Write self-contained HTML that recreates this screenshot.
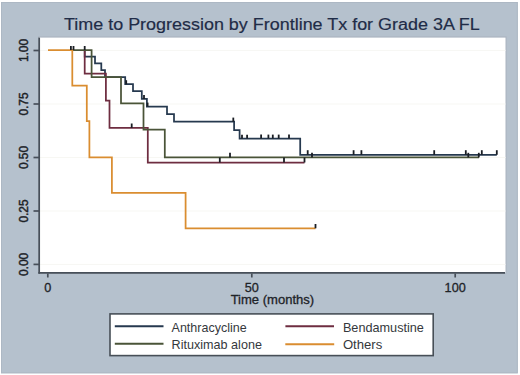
<!DOCTYPE html>
<html><head><meta charset="utf-8">
<style>
html,body{margin:0;padding:0;background:#fff;width:520px;height:375px;overflow:hidden;}
svg{display:block;}
text{font-family:"Liberation Sans",sans-serif;}
</style></head>
<body>
<svg width="520" height="375" viewBox="0 0 520 375">
<!-- graph region -->
<rect x="1" y="2" width="516.8" height="371.3" fill="#b5c1cd"/>
<rect x="1.5" y="2.5" width="515.8" height="370.3" fill="none" stroke="#adb8c4" stroke-width="1"/>
<!-- title -->
<text x="271.9" y="30.3" font-size="17.3" fill="#1f2c47" stroke="#1f2c47" stroke-width="0.2" text-anchor="middle" textLength="415.8" lengthAdjust="spacingAndGlyphs">Time to Progression by Frontline Tx for Grade 3A FL</text>
<!-- plot region -->
<rect x="38" y="36.4" width="468.6" height="237" fill="#abb5c0"/>
<rect x="39" y="37.6" width="466.5" height="235.1" fill="#ffffff"/>
<!-- gridlines -->
<g stroke="#f7f7f3" stroke-width="1">
<line x1="40" y1="50.4" x2="505.5" y2="50.4"/>
<line x1="40" y1="264.4" x2="505.5" y2="264.4"/>
<line x1="40" y1="104" x2="505.5" y2="104"/>
<line x1="40" y1="157.5" x2="505.5" y2="157.5"/>
<line x1="40" y1="211" x2="505.5" y2="211"/>
</g>
<!-- axes -->
<g stroke="#474f59" stroke-width="1.7" fill="none">
<line x1="39.2" y1="37.6" x2="39.2" y2="273.7"/>
<line x1="38.4" y1="272.9" x2="505" y2="272.9"/>
<line x1="33.5" y1="50.5" x2="39" y2="50.5"/>
<line x1="33.5" y1="104" x2="39" y2="104"/>
<line x1="33.5" y1="157.5" x2="39" y2="157.5"/>
<line x1="33.5" y1="211" x2="39" y2="211"/>
<line x1="33.5" y1="264.4" x2="39" y2="264.4"/>
<line x1="47.8" y1="273.5" x2="47.8" y2="277.5"/>
<line x1="251.8" y1="273.5" x2="251.8" y2="277.5"/>
<line x1="455.2" y1="273.5" x2="455.2" y2="277.5"/>
</g>
<!-- y labels -->
<g font-size="12.7" fill="#1e2328" stroke="#1e2328" stroke-width="0.45" text-anchor="middle">
<text transform="translate(27.8,50.5) rotate(-90) scale(0.94,1)">1.00</text>
<text transform="translate(27.8,104) rotate(-90) scale(0.94,1)">0.75</text>
<text transform="translate(27.8,157.5) rotate(-90) scale(0.94,1)">0.50</text>
<text transform="translate(27.8,211) rotate(-90) scale(0.94,1)">0.25</text>
<text transform="translate(27.8,264.4) rotate(-90) scale(0.94,1)">0.00</text>
</g>
<!-- x labels -->
<g font-size="12.7" fill="#1e2328" stroke="#1e2328" stroke-width="0.3" text-anchor="middle">
<text x="47.8" y="291.5">0</text>
<text x="251.8" y="291.5">50</text>
<text x="455.2" y="291.5">100</text>
<text x="272.4" y="303.8" textLength="83.5" lengthAdjust="spacingAndGlyphs">Time (months)</text>
</g>
<!-- curves -->
<g fill="none" stroke-width="1.75" stroke-linejoin="miter" stroke-linecap="butt">
<path stroke="#26394f" d="M84.7,50 V56.6 H95 V63.3 H101.3 V70 H105 V77.2 H125.2 V84.2 H133 V91.1 H141.8 V98.9 H146.9 V106.6 H167 V114 H174 V121.7 H234.1 V130 H239.6 V138.5 H300.2 V154.8 H496.8"/>
<path stroke="#6e2d40" d="M84.7,50 V73.6 H105.9 V100.6 H109.5 V127.9 H147.8 V162.5 H304.5"/>
<path stroke="#4a5438" d="M71.5,50 H91.6 V77.2 H121 V103.4 H143.5 V129.5 H164.8 V157.4 H479"/>
<path stroke="#da8d30" d="M48,50 H72.3 V85.6 H86.8 V121 H89.4 V157.3 H111.9 V192.9 H185.6 V228.4 H315.5"/>
</g>
<!-- censor ticks -->
<g stroke="#1a1e24" stroke-width="1.8">
<line x1="70.9" y1="46" x2="70.9" y2="50"/>
<line x1="73.5" y1="46" x2="73.5" y2="50"/>
<line x1="84.7" y1="46" x2="84.7" y2="50"/>
<line x1="126.2" y1="80.2" x2="126.2" y2="84.2"/>
<line x1="144" y1="95" x2="144" y2="98.9"/>
<line x1="147.6" y1="102.6" x2="147.6" y2="106.6"/>
<line x1="233.3" y1="117.6" x2="233.3" y2="121.7"/>
<line x1="242" y1="134.8" x2="242" y2="138.5"/>
<line x1="247.1" y1="134.8" x2="247.1" y2="138.5"/>
<line x1="261.1" y1="134.6" x2="261.1" y2="138.5"/>
<line x1="268.4" y1="134.6" x2="268.4" y2="138.5"/>
<line x1="272.8" y1="134.6" x2="272.8" y2="138.5"/>
<line x1="278.7" y1="134.6" x2="278.7" y2="138.5"/>
<line x1="289" y1="134.6" x2="289" y2="138.5"/>
<line x1="307.7" y1="150.2" x2="307.7" y2="154.8"/>
<line x1="353.6" y1="150.2" x2="353.6" y2="154.8"/>
<line x1="361.4" y1="150.2" x2="361.4" y2="154.8"/>
<line x1="434.2" y1="150.2" x2="434.2" y2="154.8"/>
<line x1="465.8" y1="150.2" x2="465.8" y2="154.8"/>
<line x1="481.8" y1="150.2" x2="481.8" y2="154.8"/>
<line x1="496.8" y1="150.2" x2="496.8" y2="154.8"/>
<line x1="131.7" y1="123.5" x2="131.7" y2="127.9"/>
<line x1="219.8" y1="157.5" x2="219.8" y2="162.5"/>
<line x1="284" y1="157.5" x2="284" y2="162.5"/>
<line x1="304.5" y1="157.5" x2="304.5" y2="162.5"/>
<line x1="230" y1="152.8" x2="230" y2="157.4"/>
<line x1="312" y1="152.8" x2="312" y2="157.4"/>
<line x1="468.3" y1="152.8" x2="468.3" y2="157.4"/>
<line x1="478.8" y1="152.8" x2="478.8" y2="157.4"/>
<line x1="315.5" y1="224" x2="315.5" y2="228.3"/>
</g>
<!-- legend -->
<rect x="110" y="313.9" width="323.2" height="41.7" fill="#fff" stroke="#474f57" stroke-width="1.6"/>
<g stroke-width="1.9">
<line x1="114.8" y1="326.2" x2="163.5" y2="326.2" stroke="#26394f"/>
<line x1="114.8" y1="343.8" x2="163.5" y2="343.8" stroke="#4a5438"/>
<line x1="285.4" y1="326.2" x2="334" y2="326.2" stroke="#6e2d40"/>
<line x1="285.3" y1="344.2" x2="334.2" y2="344.2" stroke="#da8d30"/>
</g>
<g font-size="13.2" fill="#35383c" lengthAdjust="spacingAndGlyphs">
<text x="171.6" y="331.5" textLength="75" lengthAdjust="spacingAndGlyphs">Anthracycline</text>
<text x="171.6" y="349.3" textLength="90.3" lengthAdjust="spacingAndGlyphs">Rituximab alone</text>
<text x="342.9" y="331.5" textLength="81" lengthAdjust="spacingAndGlyphs">Bendamustine</text>
<text x="342.9" y="349.3" textLength="39.4" lengthAdjust="spacingAndGlyphs">Others</text>
</g>
</svg>
</body></html>
